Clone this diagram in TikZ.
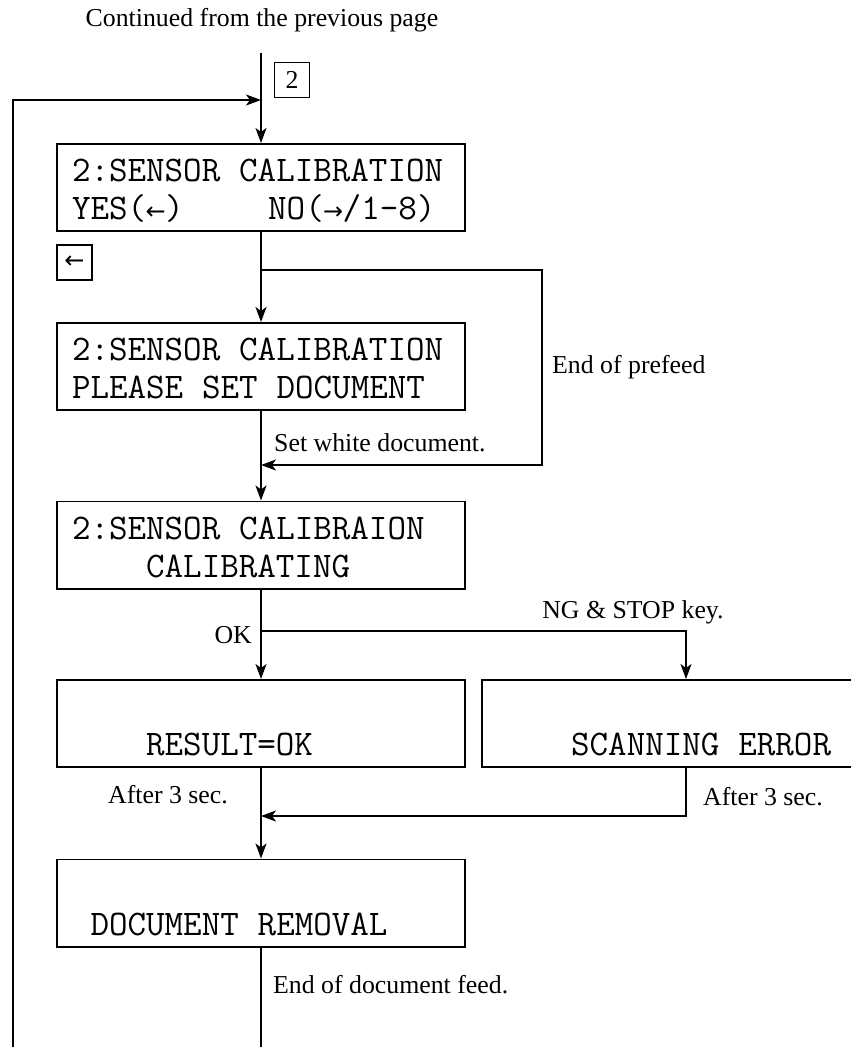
\documentclass[tikz,border=0pt]{standalone}
\usepackage{fontspec}
\setmainfont{Liberation Serif}
\newfontfamily\arrowfont{DejaVu Sans}
\usetikzlibrary{arrows.meta,positioning}
\newcommand{\lcdfont}{\ttfamily\fontsize{36}{38}\selectfont}
\newcommand{\notefont}{\rmfamily\fontsize{25.8}{30}\selectfont}
\newcommand{\blank}{\hspace*{0.525em}}
\newcommand{\topline}{\rule{0pt}{38pt}}
\newcommand{\larr}{\makebox[0.525em]{\arrowfont\fontsize{24}{24}\selectfont ←}}
\newcommand{\rarr}{\makebox[0.525em]{\arrowfont\fontsize{24}{24}\selectfont →}}

\begin{document}
\begin{tikzpicture}[x=1pt,y=-1pt,
  lcd/.style={draw,line width=1.6pt,minimum width=408pt,minimum height=87pt,
    inner xsep=15pt,inner ysep=0pt,text width=378pt,align=left,font=\lcdfont},
  note/.style={inner sep=0pt,font=\notefont},
  keybox/.style={draw,line width=1.2pt,minimum size=35pt,inner sep=0pt,font=\notefont},
  flow/.style={line width=1.6pt,-{Stealth[length=15pt,width=11pt,inset=4pt]}}]
  \useasboundingbox (0,0) rectangle (851,1047);
  % displays
  \node[lcd] (b1) at (261,187.5) {\topline 2:SENSOR\blank CALIBRATION\\\strut YES(\larr)\hspace*{2.35em}NO(\rarr/1-8)};
  \node[lcd] (b2) at (261,366.5) {\topline 2:SENSOR\blank CALIBRATION\\\strut PLEASE\blank SET\blank DOCUMENT};
  \node[lcd] (b3) at (261,545) {\topline 2:SENSOR\blank CALIBRAION\\\strut\phantom{XXXX}CALIBRATING};
  \node[lcd] (b4) at (261,723.5) {\topline\\\strut\phantom{XXXX}RESULT=OK};
  \node[lcd] (b5) at (686,723.5) {\topline\\\strut\phantom{XXXX}SCANNING\blank ERROR};
  \node[lcd] (b6) at (261,903) {\topline\\\strut\phantom{X}DOCUMENT\blank REMOVAL};
  % keys and notes
  \node[note] (cont) at (262,20) {Continued from the previous page};
  \node[keybox] (key2) at (292,80) {2};
  \node[keybox] (keyl) at (74.5,262.5) {\arrowfont\fontsize{24}{24}\selectfont ←};
  \node[note,anchor=west] (prefeed) at (552,367) {End of prefeed};
  \node[note,anchor=west] (white) at (274,443) {Set white document.};
  \node[note,anchor=east] (ok) at (252,635) {OK};
  \node[note] (ng) at (633,612) {NG \& STOP key.};
  \node[note] (after1) at (168,795) {After 3 sec.};
  \node[note,anchor=west] (after2) at (703,797) {After 3 sec.};
  \node[note,anchor=west] (feed) at (273,985) {End of document feed.};
  % junctions
  \coordinate (top) at (261,53);
  \coordinate (join) at (261,100);
  \coordinate (fork1) at (261,270);
  \coordinate (merge1) at (261,465);
  \coordinate (fork2) at (261,631);
  \coordinate (merge2) at (261,816);
  % flow
  \draw[flow] (top) -- (b1.north);
  \draw[flow] (b1.south) -- (b2.north);
  \draw[flow] (fork1) -- (542,270) |- (merge1);
  \draw[flow] (b2.south) -- (b3.north);
  \draw[flow] (b3.south) -- (b4.north);
  \draw[flow] (fork2) -| (b5.north);
  \draw[flow] (b4.south) -- (b6.north);
  \draw[flow] (b5.south) |- (merge2);
  \draw[flow] (b6.south) -- (261,1070) -| (13,100) -- (join);
\end{tikzpicture}
\end{document}
